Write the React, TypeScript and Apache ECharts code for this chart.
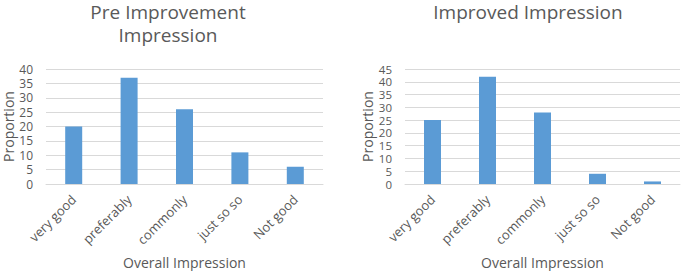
import React, { useEffect, useRef } from "react";
import * as echarts from "echarts";

const categories = ["very good", "preferably", "commonly", "just so so", "Not good"];
const preValues = [20, 37, 26, 11, 6];
const improvedValues = [25, 42, 28, 4, 1];
const preTitle = "Pre Improvement\nImpression";
const improvedTitle = "Improved Impression";
const yName = "Proportion";
const xName = "Overall Impression";

const FONT = "'Open Sans', sans-serif";
const TEXT = "#595959";
const BAR = "#5B9BD5";
const GRIDLINE = "#D9D9D9";

export default function App() {
  const ref = useRef<HTMLDivElement>(null);
  useEffect(() => {
    if (!ref.current) return;
    const chart = echarts.init(ref.current, undefined, { renderer: "svg" });
    const xAxisBase = (gridIndex: number) => ({
      type: "category" as const,
      gridIndex,
      data: categories,
      name: xName,
      nameLocation: "middle" as const,
      nameGap: 71,
      nameTextStyle: { color: TEXT, fontSize: 14, fontFamily: FONT },
      axisLine: { lineStyle: { color: GRIDLINE } },
      axisTick: { show: false },
      axisLabel: { rotate: 45, color: TEXT, fontSize: 13, fontFamily: FONT, margin: 13, interval: 0 },
    });
    const yAxisBase = (gridIndex: number, max: number, labelSize: number) => ({
      type: "value" as const,
      gridIndex,
      min: 0,
      max,
      interval: 5,
      name: yName,
      nameLocation: "middle" as const,
      nameGap: 31,
      nameTextStyle: { color: TEXT, fontSize: 14, fontFamily: FONT, lineHeight: 14 },
      axisLine: { show: false },
      axisTick: { show: false },
      axisLabel: { color: TEXT, fontSize: labelSize, fontFamily: FONT, margin: 13, lineHeight: 11 },
      splitLine: { lineStyle: { color: GRIDLINE } },
    });
    const titleStyle = { color: TEXT, fontSize: 19, fontWeight: "normal" as const, fontFamily: FONT, lineHeight: 23 };
    chart.setOption({
      animation: false,
      title: [
        { text: preTitle, left: 168, top: 0, padding: 0, textAlign: "center", textStyle: titleStyle },
        { text: improvedTitle, left: 528, top: 0, padding: 0, textAlign: "center", textStyle: titleStyle },
      ],
      grid: [
        { left: 44, right: 360, top: 69, bottom: 87 },
        { left: 405, right: 3, top: 69, bottom: 87 },
      ],
      xAxis: [xAxisBase(0), xAxisBase(1)],
      yAxis: [yAxisBase(0, 40, 12), yAxisBase(1, 45, 11.5)],
      series: [
        { type: "bar", xAxisIndex: 0, yAxisIndex: 0, data: preValues, barWidth: 17, itemStyle: { color: BAR } },
        { type: "bar", xAxisIndex: 1, yAxisIndex: 1, data: improvedValues, barWidth: 17, itemStyle: { color: BAR } },
      ],
    });
    return () => chart.dispose();
  }, []);
  return <div ref={ref} style={{ position: "fixed", left: 0, top: 0, width: 683, height: 271, background: "#fff" }} />;
}
